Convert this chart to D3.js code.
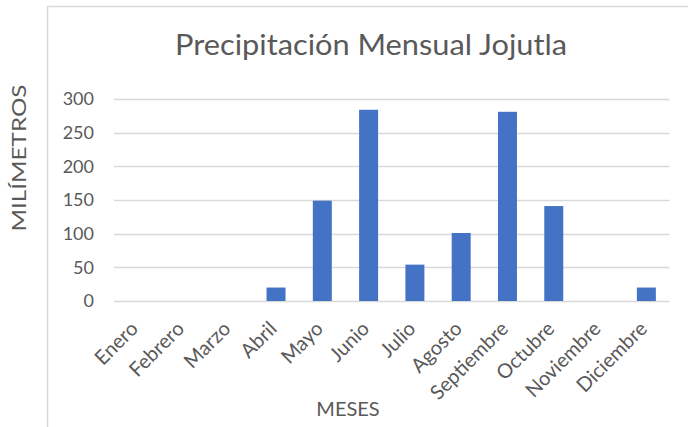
<!DOCTYPE html>
<html>
<head>
<meta charset="utf-8">
<script src="https://cdn.jsdelivr.net/npm/d3@7"></script>
<style>
  html, body { margin: 0; padding: 0; background: #ffffff; }
  svg { display: block; }
  text { font-family: Lato, "Open Sans", sans-serif; fill: #595959; }
</style>
</head>
<body>
<svg id="chart" width="688" height="427"></svg>
<script>
// Monthly rainfall (mm) for Jojutla
const meses = ["Enero", "Febrero", "Marzo", "Abril", "Mayo", "Junio",
               "Julio", "Agosto", "Septiembre", "Octubre", "Noviembre", "Diciembre"];
const precipitacion = [0, 0, 0, 20, 149, 284, 54, 101, 281, 141, 0, 20];
const yTicks = [0, 50, 100, 150, 200, 250, 300];
const titulo = "Precipitación Mensual Jojutla";
const tituloX = "MESES";
const tituloY = "MILÍMETROS";

const svg = d3.select("#chart");
const W = 688, H = 427;
const plot = { left: 114, right: 669.5, top: 99, bottom: 301 };

// chart frame (cropped at right and bottom)
svg.append("path")
  .attr("d", `M47.5,${H} L47.5,6.5 L${W},6.5`)
  .attr("fill", "none")
  .attr("stroke", "#d9d9d9")
  .attr("stroke-width", 1.5);

const x = d3.scaleBand()
  .domain(meses)
  .range([plot.left, plot.right])
  .paddingInner(0.59)
  .paddingOuter(0.295);

const y = d3.scaleLinear()
  .domain([0, 300])
  .range([plot.bottom, plot.top]);

// horizontal gridlines
svg.append("g")
  .selectAll("line")
  .data(yTicks)
  .join("line")
  .attr("x1", plot.left)
  .attr("x2", plot.right)
  .attr("y1", d => Math.round(y(d)) + 0.5)
  .attr("y2", d => Math.round(y(d)) + 0.5)
  .attr("stroke", "#d9d9d9")
  .attr("stroke-width", 1.5);

// y axis labels
const yAxis = d3.axisLeft(y).tickValues(yTicks).tickSize(0).tickPadding(20);
const gy = svg.append("g").attr("transform", `translate(${plot.left},0)`).call(yAxis);
gy.select(".domain").remove();
gy.selectAll("text")
  .attr("font-size", 18)
  .attr("font-family", "Lato, sans-serif")
  .attr("fill", "#595959");

// bars
svg.append("g")
  .selectAll("rect")
  .data(meses.map((m, i) => ({ m, v: precipitacion[i] })))
  .join("rect")
  .attr("x", d => x(d.m))
  .attr("width", x.bandwidth())
  .attr("y", d => y(d.v))
  .attr("height", d => y(0) - y(d.v))
  .attr("fill", "#4472c4");

// x axis labels, rotated
const xAxis = d3.axisBottom(x).tickSize(0).tickPadding(0);
const gx = svg.append("g").attr("transform", `translate(0,${plot.bottom})`).call(xAxis);
gx.select(".domain").remove();
gx.selectAll("text")
  .attr("font-size", 20)
  .attr("font-family", "Lato, sans-serif")
  .attr("fill", "#595959")
  .attr("text-anchor", "end")
  .attr("dy", 0)
  .attr("y", 0)
  .attr("transform", "translate(2,29) rotate(-45)");

// title
svg.append("text")
  .attr("x", 371)
  .attr("y", 55)
  .attr("text-anchor", "middle")
  .attr("font-size", 29)
  .attr("textLength", 392)
  .attr("lengthAdjust", "spacingAndGlyphs")
  .text(titulo);

// axis titles
svg.append("text")
  .attr("x", 348)
  .attr("y", 416)
  .attr("text-anchor", "middle")
  .attr("font-size", 20)
  .text(tituloX);

svg.append("text")
  .attr("transform", "translate(26,158) rotate(-90)")
  .attr("text-anchor", "middle")
  .attr("font-size", 19)
  .attr("textLength", 147)
  .attr("lengthAdjust", "spacingAndGlyphs")
  .text(tituloY);
</script>
</body>
</html>
